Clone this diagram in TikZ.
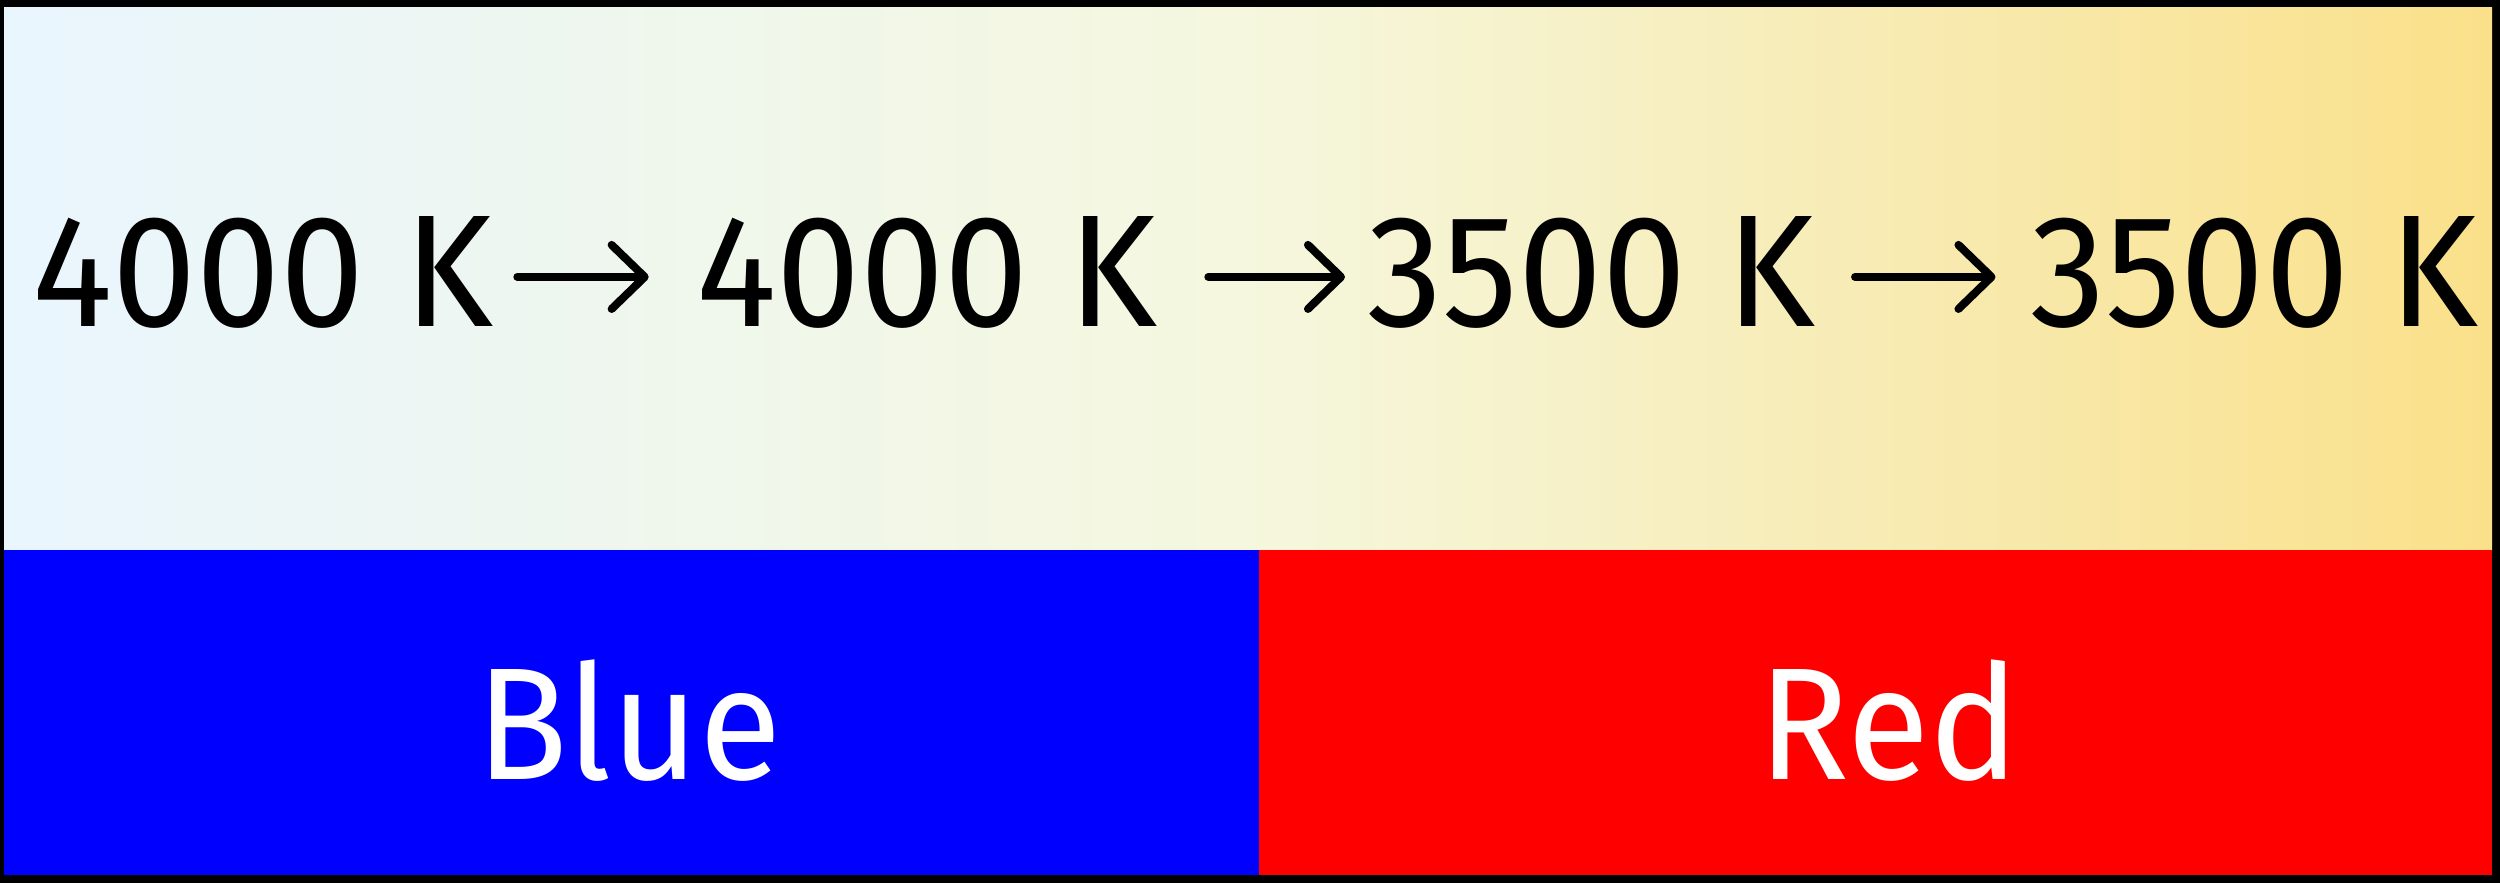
\documentclass[tikz,border=0pt]{standalone}
\usepackage{fontspec}
\setmainfont[FakeStretch=0.944]{Fira Sans}
\usetikzlibrary{arrows.meta}
\definecolor{gleft}{RGB}{233,246,254}
\definecolor{gmid}{RGB}{245,247,222}
\definecolor{gright}{RGB}{250,224,138}
\definecolor{pureblue}{RGB}{0,0,255}
\definecolor{purered}{RGB}{255,0,0}
\tikzset{
  temp/.style={inner sep=0pt, anchor=base, font=\fontsize{45.4}{50}\selectfont, text=black},
  lab/.style={inner sep=0pt, anchor=base, font=\fontsize{45.4}{50}\selectfont, text=white},
  conn/.style={line width=0.08cm, line cap=round, -{Straight Barb[length=0.33cm, width=0.64cm, line cap=round, line join=round]}},
}
\begin{document}
\begin{tikzpicture}[x=0.01cm,y=0.01cm]
\useasboundingbox (0,0) rectangle (2500,883);
\fill[black] (0,0) rectangle (2500,883);
\shade[left color=gleft, right color=gright, middle color=gmid] (4,333) rectangle (2492,875);
\fill[pureblue] (4,8) rectangle (1259,333);
\fill[purered] (1259,8) rectangle (2492,333);
\node[temp] (t1) at (263,556) {4000 K};
\node[temp] (t2) at (927,556) {4000 K};
\node[temp] (t3) at (1591.5,556) {3500 K};
\node[temp] (t4) at (2254,556) {3500 K};
\draw[conn, shorten <=0.23cm, shorten >=0.47cm] ([yshift=-0.04cm]t1.east) -- ([yshift=-0.04cm]t2.west);
\draw[conn, shorten <=0.50cm, shorten >=0.22cm] ([yshift=-0.04cm]t2.east) -- ([yshift=-0.04cm]t3.west);
\draw[conn, shorten <=0.39cm, shorten >=0.34cm] ([yshift=-0.04cm]t3.east) -- ([yshift=-0.04cm]t4.west);
\node[lab] (blue) at (629,103) {Blue};
\node[lab] (red) at (1889,103) {Red};
\end{tikzpicture}
\end{document}
